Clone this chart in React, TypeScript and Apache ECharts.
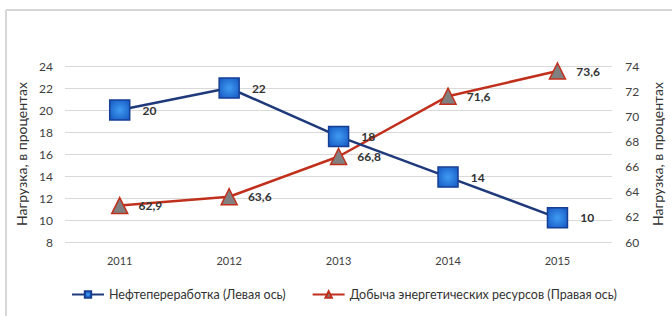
import React, { useEffect, useRef } from "react";
import * as echarts from "echarts";

const years = ["2011", "2012", "2013", "2014", "2015"];
const refining = [20, 22, 17.6, 13.9, 10.2];
const refiningLabels = ["20", "22", "18", "14", "10"];
const extraction = [62.9, 63.6, 66.8, 71.6, 73.6];
const leftName = "Нагрузка, в процентах";
const rightName = "Нагрузка, в процентах";
const seriesNames = ["Нефтепереработка (Левая ось)", "Добыча энергетических ресурсов (Правая ось)"];

const FONT = "Lato, 'Open Sans', sans-serif";

export default function App() {
  const ref = useRef<HTMLDivElement>(null);
  useEffect(() => {
    if (!ref.current) return;
    const chart = echarts.init(ref.current, undefined, { renderer: "svg" });
    chart.setOption({
      animation: false,
      backgroundColor: "#ffffff",
      textStyle: { fontFamily: FONT },
      grid: { left: 65, right: 57, top: 66, bottom: 74 },
      graphic: [
        { type: "line", shape: { x1: 6, y1: 10, x2: 672, y2: 10 }, style: { stroke: "#d6d6d6", lineWidth: 2 } },
        { type: "line", shape: { x1: 6, y1: 10, x2: 6, y2: 316 }, style: { stroke: "#d6d6d6", lineWidth: 2 } },
      ],
      legend: {
        bottom: 10,
        left: 66,
        itemWidth: 32,
        itemHeight: 8,
        itemGap: 26,
        textStyle: { fontFamily: FONT, fontSize: 12.5, color: "#333333" },
        data: seriesNames,
      },
      xAxis: {
        type: "category",
        data: years,
        boundaryGap: true,
        axisLine: { show: false },
        axisTick: { show: false },
        axisLabel: { color: "#404040", fontSize: 11, margin: 13, fontFamily: FONT },
      },
      yAxis: [
        {
          type: "value",
          min: 8,
          max: 24,
          interval: 2,
          position: "left",
          name: leftName,
          nameLocation: "middle",
          nameRotate: 90,
          nameGap: 32,
          nameTextStyle: { color: "#333333", fontSize: 14, fontFamily: FONT },
          axisLine: { show: false },
          axisTick: { show: false },
          axisLabel: { color: "#404040", fontSize: 12, margin: 12, fontFamily: FONT },
          splitLine: { lineStyle: { color: "#d9d9d9", width: 1 } },
        },
        {
          type: "value",
          min: 60,
          max: 74,
          interval: 2,
          position: "right",
          name: rightName,
          nameLocation: "middle",
          nameRotate: 90,
          nameGap: 35,
          nameTextStyle: { color: "#333333", fontSize: 14, fontFamily: FONT },
          axisLine: { show: false },
          axisTick: { show: false },
          axisLabel: { color: "#404040", fontSize: 12, margin: 13, fontFamily: FONT },
          splitLine: { show: false },
        },
      ],
      series: [
        {
          name: seriesNames[0],
          type: "line",
          yAxisIndex: 0,
          data: refining,
          symbol: "rect",
          symbolSize: 20,
          lineStyle: { color: "#1f3a7a", width: 2.5 },
          itemStyle: {
            color: new echarts.graphic.RadialGradient(0.5, 0.5, 0.7, [
              { offset: 0, color: "#3f9cf2" },
              { offset: 1, color: "#1455c2" },
            ]),
            borderColor: "#163f94",
            borderWidth: 1.5,
          },
          label: {
            show: true,
            position: "right",
            distance: 12,
            color: "#333333",
            fontSize: 12,
            fontWeight: "bold",
            fontFamily: FONT,
            formatter: (p: any) => refiningLabels[p.dataIndex],
          },
          z: 3,
        },
        {
          name: seriesNames[1],
          type: "line",
          yAxisIndex: 1,
          data: extraction,
          symbol: "triangle",
          symbolSize: [16, 16],
          lineStyle: { color: "#c0301c", width: 2.5 },
          itemStyle: { color: "#808080", borderColor: "#c0301c", borderWidth: 1.5 },
          label: {
            show: true,
            position: "right",
            distance: 10,
            color: "#333333",
            fontSize: 12,
            fontWeight: "bold",
            fontFamily: FONT,
            formatter: (p: any) => String(p.value).replace(".", ","),
          },
          z: 2,
        },
      ],
    });
    return () => chart.dispose();
  }, []);
  return <div ref={ref} style={{ width: 672, height: 316, position: "absolute", left: 0, top: 0 }} />;
}
